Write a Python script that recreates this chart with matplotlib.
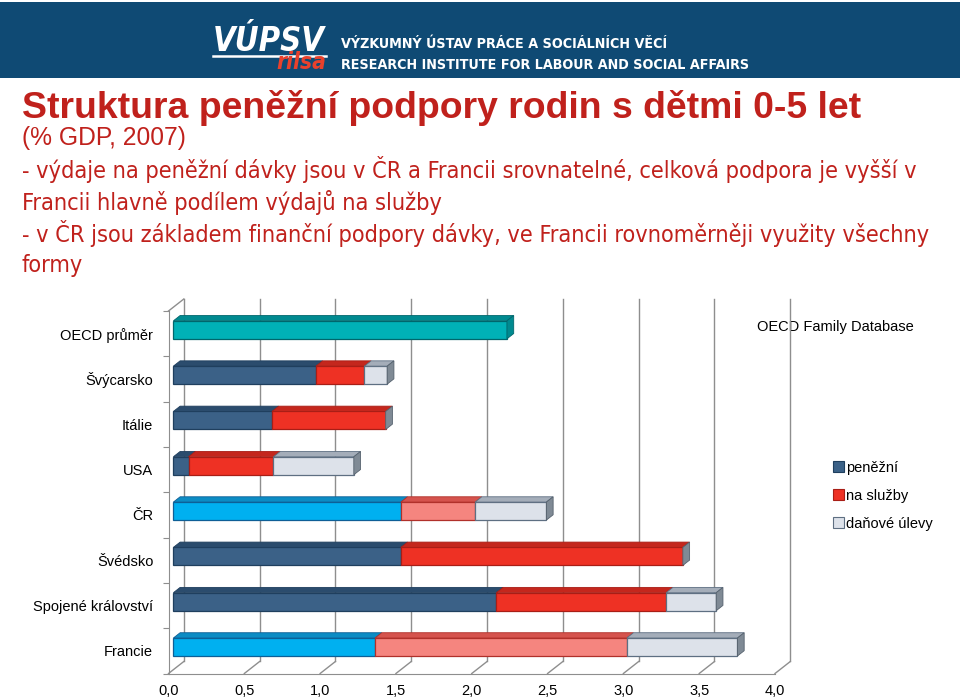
import os
import numpy as np
import matplotlib.pyplot as plt
from matplotlib.patches import Polygon, Rectangle, Patch
from matplotlib.lines import Line2D
from matplotlib.font_manager import FontProperties, fontManager

# data (% GDP, 2007)
kategorie = ["OECD průměr", "Švýcarsko", "Itálie", "USA", "ČR", "Švédsko",
             "Spojené království", "Francie"]
penezni = [2.20, 0.94, 0.65, 0.10, 1.50, 1.50, 2.13, 1.33]
sluzby = [0.00, 0.32, 0.75, 0.56, 0.49, 1.86, 1.12, 1.66]
ulevy = [0.00, 0.15, 0.00, 0.53, 0.47, 0.00, 0.33, 0.73]
zvyraznene = ["ČR", "Francie"]
serie = ["peněžní", "na služby", "daňové úlevy"]
xticks = np.arange(0, 4.01, 0.5)

plt.rcParams['font.family'] = ['Liberation Sans', 'DejaVu Sans']


def uzke_pismo(tucne=False, kurziva=False):
    # look for a narrow / condensed face (Arial Narrow look)
    nalezene = []
    for f in fontManager.ttflist:
        jm = os.path.basename(f.fname).lower()
        if 'narrow' not in jm and 'condensed' not in jm:
            continue
        je_tucne = 'bold' in jm
        je_kurz = 'italic' in jm or 'oblique' in jm
        if je_tucne == tucne and je_kurz == kurziva:
            nalezene.append(f.fname)
    nalezene.sort(key=lambda p: (0 if 'liberation' in p.lower() else 1, p))
    if nalezene:
        return FontProperties(fname=nalezene[0])
    return FontProperties(family='Liberation Sans', weight='bold' if tucne else 'normal',
                          style='italic' if kurziva else 'normal')


# colours: (face, edge, top face)
barvy = [('#3B6187', '#1F3F5E', '#2B4C6D'),
         ('#EE3124', '#A81E16', '#C4271D'),
         ('#DDE2EA', '#5E6F82', '#A4ADB9')]
barvy_zv = [('#00B0F0', '#0E5F96', '#0C8CC4'),
            ('#F5857F', '#B0302A', '#D5534D'),
            ('#DDE2EA', '#5E6F82', '#A4ADB9')]
oecd_barva = ('#00B1B7', '#00666C', '#008A90')
bok = ('#7F8A95', '#56626E')
cervena = '#C0211C'
mrizka = '#8E8E8E'

fig = plt.figure(figsize=(9.6, 7), dpi=100)
renderer = fig.canvas.get_renderer()


def na_sirku(t, sirka):
    w = t.get_window_extent(renderer).width
    t.set_fontsize(t.get_fontsize() * sirka / w)
    return t


# header band
fig.patches.append(Rectangle((0, 1 - 78 / 700), 1, 76 / 700, transform=fig.transFigure,
                             fc='#0F4A74', ec='none', zorder=0))
t = fig.text(213 / 960, 1 - 51 / 700, 'VÚPSV', color='white', fontsize=27,
             fontproperties=uzke_pismo(True, True), va='baseline')
na_sirku(t, 112)
fig.lines.append(Line2D([213 / 960, 326 / 960], [1 - 56 / 700] * 2, transform=fig.transFigure,
                        color='white', lw=1.8))
t = fig.text(326 / 960, 1 - 69 / 700, 'rilsa', color='#E8412C', fontsize=18,
             fontproperties=uzke_pismo(True, True), va='baseline', ha='right')
na_sirku(t, 50)
t = fig.text(341 / 960, 1 - 48 / 700, 'VÝZKUMNÝ ÚSTAV PRÁCE A SOCIÁLNÍCH VĚCÍ', color='white',
             fontsize=12, fontproperties=uzke_pismo(True), va='baseline')
na_sirku(t, 329)
t = fig.text(341 / 960, 1 - 69 / 700, 'RESEARCH INSTITUTE FOR LABOUR AND SOCIAL AFFAIRS',
             color='white', fontsize=12, fontproperties=uzke_pismo(True), va='baseline')
na_sirku(t, 409)

# titles
t = fig.text(22 / 960, 1 - 118 / 700, 'Struktura peněžní podpory rodin s dětmi 0-5 let',
             color=cervena, fontsize=27, fontweight='bold', va='baseline')
na_sirku(t, 840)
t = fig.text(22 / 960, 1 - 145 / 700, '(% GDP, 2007)', color=cervena, fontsize=17.5,
             va='baseline')
na_sirku(t, 164)
radky = ['- výdaje na peněžní dávky jsou v ČR a Francii srovnatelné, celková podpora je vyšší v',
         'Francii hlavně podílem výdajů na služby',
         '- v ČR jsou základem finanční podpory dávky, ve Francii rovnoměrněji využity všechny',
         'formy']
texty = [fig.text(22 / 960, 1 - yb / 700, txt, color=cervena, fontsize=17,
                  fontproperties=uzke_pismo(), va='baseline')
         for txt, yb in zip(radky, [178, 210, 242, 272])]
w0 = texty[0].get_window_extent(renderer).width
for t in texty:
    t.set_fontsize(t.get_fontsize() * 893 / w0)

# chart: front plane of the 3D box
ax = fig.add_axes([168.5 / 960, (700 - 673.5) / 700, (775 - 168.5) / 960, 362.5 / 700])
ax.set_xlim(0, 4)
ax.set_ylim(8, 0)
DX = 15.3 / 151.6   # depth shift in x units
DY = 12 / 45.3      # depth shift in category units


def P(v, y, d):
    return (v + d * DX, y - d * DY)


# walls and floor
for k in xticks:
    x0, yb = P(k, 8, 1)
    ax.plot([x0, x0], [yb, P(k, 0, 1)[1]], color=mrizka, lw=1, zorder=1, clip_on=False)
    ax.plot([k, x0], [8, yb], color=mrizka, lw=1, zorder=1, clip_on=False)
xb, yt = P(0, 0, 1)
ax.plot([0, xb], [0, yt], color=mrizka, lw=1, zorder=1, clip_on=False)

for s in ['top', 'right']:
    ax.spines[s].set_visible(False)
for s in ['left', 'bottom']:
    ax.spines[s].set_color(mrizka)
ax.set_xticks(xticks, [f'{v:.1f}'.replace('.', ',') for v in xticks])
ax.tick_params(axis='x', length=0, pad=7.5, labelsize=10.5)
ax.set_yticks(np.arange(0, 9))
ax.set_yticklabels([])
ax.set_yticks(np.arange(len(kategorie)) + 0.5, kategorie, minor=True)
ax.tick_params(axis='y', which='major', length=4, color=mrizka)
ax.tick_params(axis='y', which='minor', length=0, pad=11, labelsize=10.5)
ax.patch.set_alpha(0)

hh = 9 / 45.3
d0, d1 = 0.32, 0.76
for i, kat in enumerate(kategorie):
    hodnoty = [penezni[i], sluzby[i], ulevy[i]]
    if i == 0:
        paleta = [oecd_barva]
    else:
        paleta = barvy_zv if kat in zvyraznene else barvy
    ytop, ybot = i + 0.5 - hh, i + 0.5 + hh
    start = 0
    for j, w in enumerate(hodnoty):
        if w <= 0:
            continue
        fc, ec, tc = paleta[j]
        ax.barh(i + 0.5 - d0 * DY, w, left=start + d0 * DX, height=2 * hh, color=fc,
                edgecolor=ec, lw=0.9, zorder=3)
        ax.add_patch(Polygon([P(start, ytop, d0), P(start + w, ytop, d0), P(start + w, ytop, d1),
                              P(start, ytop, d1)], closed=True, fc=tc, ec=ec, lw=0.6, zorder=3))
        start += w
    sc, se = (oecd_barva[2], oecd_barva[1]) if i == 0 else bok
    ax.add_patch(Polygon([P(start, ytop, d0), P(start, ytop, d1), P(start, ybot, d1),
                          P(start, ybot, d0)], closed=True, fc=sc, ec=se, lw=0.6, zorder=3))

ax.text(757 / 960, 1 - 327 / 700, 'OECD Family Database', transform=fig.transFigure,
        fontsize=10.5, va='center', zorder=0.5)

handles = [Patch(fc=barvy[j][0], ec=barvy[j][1], lw=0.8) for j in range(3)]
fig.legend(handles, serie, loc='upper left', bbox_to_anchor=(827 / 960, 1 - 455 / 700),
           frameon=False, fontsize=10.5, handlelength=0.75, handleheight=0.75,
           handletextpad=0.15, labelspacing=0.95, borderaxespad=0)

fig.savefig('out.png', dpi=100)
